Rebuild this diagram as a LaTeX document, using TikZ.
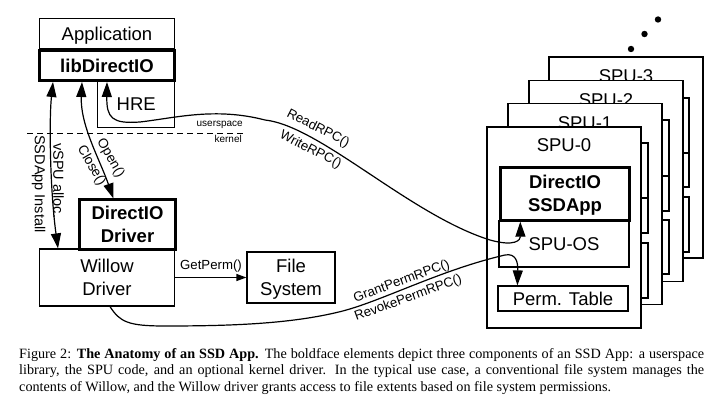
\documentclass[tikz,border=0pt]{standalone}
\usepackage{fontspec}
\setmainfont{Liberation Serif}
\newfontfamily\arial{Liberation Sans}
\usetikzlibrary{arrows.meta,calc}
\tikzset{
  bx/.style={draw, line width=1.2pt, fill=white, inner sep=0pt, align=center,
    font=\arial\fontsize{18.5}{23}\selectfont},
  bbx/.style={bx, line width=3pt, font=\arial\bfseries\fontsize{18.5}{23}\selectfont},
  one/.style={text height=13.3pt, text depth=0pt},
  spu/.style={draw, line width=1.2pt, fill=white, minimum width=154pt, minimum height=201pt, inner sep=0pt},
  spulbl/.style={font=\arial\fontsize{18.5}{23}\selectfont, inner sep=0pt, text height=13.3pt, text depth=0pt},
  inbox/.style={draw, line width=1.2pt, fill=white},
  conn/.style={line width=1.2pt},
  bigtip/.style={-{Triangle[length=15pt,width=10pt]}},
  dbltip/.style={{Triangle[length=15pt,width=10pt]}-{Triangle[length=15pt,width=10pt]}},
  smalltip/.style={-{Triangle[length=10pt,width=7pt]}},
  lbl/.style={font=\arial\fontsize{13.2}{15}\selectfont, inner sep=0pt},
  vlbl/.style={font=\arial\fontsize{14.5}{16}\selectfont, inner sep=0pt, rotate=-90},
  olbl/.style={font=\arial\fontsize{13.5}{15}\selectfont, inner sep=0pt, rotate=-60},
  ksmall/.style={font=\arial\fontsize{10}{12}\selectfont, inner sep=0pt},
}
\begin{document}
\begin{tikzpicture}[x=1pt,y=-1pt]
\useasboundingbox (0,0) rectangle (717,403);
\fill[white] (0,0) rectangle (717,403);

% ---- host side ----
\node[bx, one, minimum width=135.4pt, minimum height=30.7pt] (app) at (107,33.7) {Application};
\node[bx, one, minimum width=77pt, minimum height=47pt] (hre) at (136.2,104) {HRE};
\node[bbx, one, minimum width=134.5pt, minimum height=30pt] (lib) at (107,65.5) {libDirectIO};

\draw[dash pattern=on 6pt off 4pt, line width=1.1pt] (27,133.7) -- (245,133.7);
\node[ksmall, anchor=base east] (us) at (243,126.5) {userspace};
\node[ksmall, anchor=base east] (kn) at (242,142.5) {kernel};

\node[bx, minimum width=135.4pt, minimum height=57pt] (willow) at (107,277.5) {Willow\\Driver};
\node[bbx, minimum width=95.4pt, minimum height=49.7pt] (drv) at (127.5,224.7) {DirectIO\\Driver};
\node[bx, minimum width=88pt, minimum height=51pt] (fs) at (291,277.5) {File\\\smash{System}};

% ---- SPU stack ----
\node[spu] (spu3) at (626,157.5) {};
\node[spulbl] (l3) at ($(spu3.north)+(0,19.5)$) {SPU-3};
\draw[inbox] (561,98) rectangle (689,153);
\draw[inbox] (561,153) rectangle (689,187);
\draw[inbox] (561,197) rectangle (689,252);

\node[spu] (spu2) at (606,181) {};
\node[spulbl] (l2) at ($(spu2.north)+(0,19.5)$) {SPU-2};
\draw[inbox] (541,120) rectangle (669,176);
\draw[inbox] (541,176) rectangle (669,211);
\draw[inbox] (541,220) rectangle (669,274);

\node[spu] (spu1) at (585,204) {};
\node[spulbl] (l1) at ($(spu1.north)+(0,19.5)$) {SPU-1};
\draw[inbox] (520,143) rectangle (648,198);
\draw[inbox] (520,198) rectangle (648,233);
\draw[inbox] (520,243) rectangle (648,298);

\node[spu] (spu0) at (564,227.5) {};
\node[spulbl] (l0) at ($(spu0.north)+(0,18)$) {SPU-0};
\node[bx, one, minimum width=130pt, minimum height=46pt] (os) at (564,244) {SPU-OS};
\node[bbx, minimum width=128.4pt, minimum height=53pt] (ssd) at (565,193.7) {DirectIO\\\smash{SSDApp}};
\node[bx, one, minimum width=130pt, minimum height=25pt] (perm) at (563,298.5) {Perm. Table};

\fill (631,49) circle[radius=3.2pt];
\fill (644.5,34) circle[radius=3.2pt];
\fill (658,19.5) circle[radius=3.2pt];

% ---- connectors ----
\draw[conn, dbltip] ($(lib.south)+(-54,0)$) .. controls (49,120) and (50,190) .. ($(willow.north)+(-49,0)$);
\node[vlbl] (t1) at (58.5,180.7) {vSPU alloc.};
\node[vlbl] (t2) at (38.5,184) {SSDApp Install};

\draw[conn, dbltip] ($(lib.south)+(-25,0)$) .. controls (80,125) and (100,160) .. ($(drv.north west)+(35,0)$);
\node[olbl] (t3) at (110.5,158.3) {Open()};
\node[olbl] (t4) at (91.2,165.7) {Close()};

\draw[conn, smalltip] (willow.east) -- (fs.west);
\node[lbl] (t5) at (211,266) {GetPerm()};

\draw[conn, dbltip] (lib.south) .. controls (106.5,118) and (112,124) .. (140,122)
  .. controls (175,118) and (215,107) .. (265,120)
  .. controls (320,126) and (410,215) .. (490,240)
  .. controls (515,247) and (520.5,240) .. ($(ssd.south west)+(21,0)$);
\node[lbl, rotate=-27] (t6) at (318,128.5) {ReadRPC()};
\node[lbl, rotate=-27] (t7) at (310.5,150) {WriteRPC()};

\draw[conn, bigtip] ($(willow.south)+(3,0)$) .. controls (120,322) and (128,326) .. (165,326)
  .. controls (230,326) and (290,324) .. (340,311.7)
  .. controls (380,302) and (440,270) .. (505,255)
  .. controls (516,253) and (518,262) .. ($(perm.north west)+(20,0)$);
\node[lbl, rotate=20] (t8) at (401.7,281.7) {GrantPermRPC()};
\node[lbl, rotate=20] (t9) at (408.3,298.3) {RevokePermRPC()};

% ---- caption ----
\node[anchor=north west, inner sep=0pt, text width=685pt, align=justify,
  font=\fontsize{14.2}{16.7}\selectfont] (cap) at (19,348.0)
  {Figure 2: \textbf{The Anatomy of an SSD App.} The boldface elements depict three components of an SSD App: a userspace library, the SPU code, and an optional kernel driver. In the typical use case, a conventional file system manages the contents of Willow, and the Willow driver grants access to file extents based on file system permissions.};
\end{tikzpicture}
\end{document}
